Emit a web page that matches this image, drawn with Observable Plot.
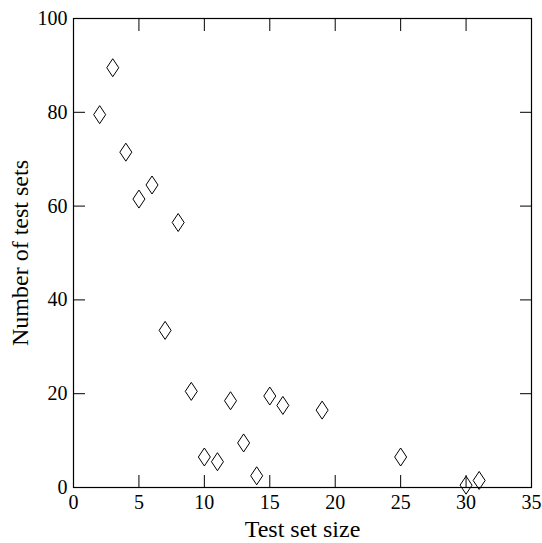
<!DOCTYPE html>
<html><head><meta charset="utf-8">
<script src="https://cdn.jsdelivr.net/npm/d3@7"></script>
<script src="https://cdn.jsdelivr.net/npm/@observablehq/plot@0.6"></script>
<style>body{margin:0;background:#fff;}</style>
</head><body><div id="chart"></div>
<script>
const testSetSize = [2, 3, 4, 5, 6, 7, 8, 9, 10, 11, 12, 13, 14, 15, 16, 19, 25, 30, 31];
const numTestSets = [79.5, 89.5, 71.5, 61.5, 64.5, 33.5, 56.5, 20.5, 6.5, 5.5, 18.5, 9.5, 2.5, 19.5, 17.5, 16.5, 6.5, 0.5, 1.5];
const xTicks = [0, 5, 10, 15, 20, 25, 30, 35];
const yTicks = [0, 20, 40, 60, 80, 100];
const xLabel = "Test set size";
const yLabel = "Number of test sets";

const data = testSetSize.map((x, i) => ({x, y: numTestSets[i]}));
const diamond = {draw(ctx) { const w = 6, h = 9; ctx.moveTo(0, -h); ctx.lineTo(w, 0); ctx.lineTo(0, h); ctx.lineTo(-w, 0); ctx.closePath(); }};

const plot = Plot.plot({
  width: 542, height: 543,
  marginLeft: 73, marginRight: 11, marginTop: 18, marginBottom: 56,
  style: {fontFamily: "'Liberation Serif', serif", fontSize: "20px", color: "#000", background: "#fff"},
  x: {domain: [0, 35]},
  y: {domain: [0, 100]},
  marks: [
    Plot.axisX({anchor: "bottom", ticks: xTicks, tickSize: -12, tickFormat: () => "", label: null}),
    Plot.axisX({anchor: "top", ticks: xTicks, tickSize: -12, tickFormat: () => "", label: null}),
    Plot.axisY({anchor: "left", ticks: yTicks, tickSize: -12, tickFormat: () => "", label: null}),
    Plot.axisY({anchor: "right", ticks: yTicks, tickSize: -12, tickFormat: () => "", label: null}),
    Plot.axisX({anchor: "bottom", ticks: xTicks, tickSize: 0, tickPadding: 7, fontSize: 20, label: null}),
    Plot.axisY({anchor: "left", ticks: yTicks, tickSize: 0, tickPadding: 6, fontSize: 20, label: null}),
    Plot.text([xLabel], {text: d => d, frameAnchor: "bottom", textAnchor: "middle", lineAnchor: "middle", dy: 42, fontSize: 24}),
    Plot.text([yLabel], {text: d => d, frameAnchor: "left", textAnchor: "middle", lineAnchor: "middle", dx: -53, rotate: -90, fontSize: 24}),
    Plot.frame({stroke: "#000", strokeWidth: 1.2}),
    Plot.dot(data, {x: "x", y: "y", symbol: diamond, stroke: "#000", strokeWidth: 1, fill: "none"})
  ]
});
document.getElementById("chart").appendChild(plot);
</script></body></html>
